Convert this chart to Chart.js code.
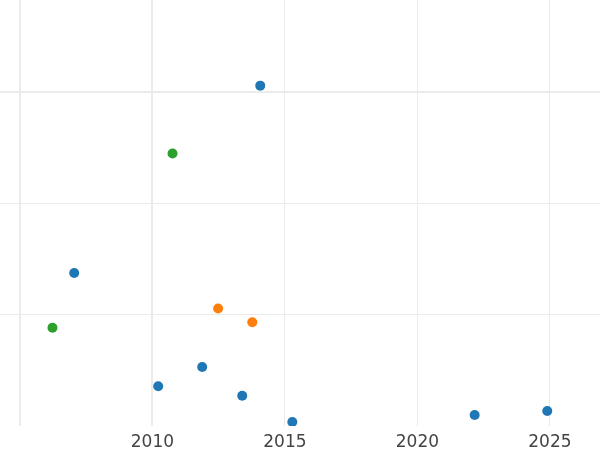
<!DOCTYPE html>
<html>
<head>
<meta charset="utf-8">
<script src="https://cdn.jsdelivr.net/npm/chart.js@4"></script>
<style>
  html, body { margin: 0; padding: 0; background: #fff; }
  #wrap { width: 600px; height: 450px; }
</style>
</head>
<body>
<div id="wrap"><canvas id="chart"></canvas></div>
<script>
// years and values (y has no labels, arbitrary units)
const blueYears = [2014.07, 2007.05, 2011.88, 2010.22, 2013.39, 2015.28, 2022.16, 2024.90];
const blueValues = [3.06, 1.375, 0.53, 0.357, 0.272, 0.036, 0.099, 0.135];
const orangeYears = [2012.48, 2013.77];
const orangeValues = [1.057, 0.932];
const greenYears = [2010.76, 2006.23];
const greenValues = [2.45, 0.883];

const xTicks = [2005, 2010, 2015, 2020, 2025];
const yTicks = [1, 2, 3];

const ToPoints = function (xs, ys) {
    return xs.map((x, i) => ({ x: x, y: ys[i] }));
}

const MakeSet = function (label, xs, ys, color) {
    return {
        label: label,
        data: ToPoints(xs, ys),
        backgroundColor: color,
        borderColor: color,
        pointRadius: 5,
        pointHoverRadius: 5,
        borderWidth: 0
    };
}

new Chart(document.getElementById('chart'), {
    type: 'scatter',
    data: {
        datasets: [
            MakeSet('blue', blueYears, blueValues, '#1f77b4'),
            MakeSet('orange', orangeYears, orangeValues, '#ff7f0e'),
            MakeSet('green', greenYears, greenValues, '#2ca02c')
        ]
    },
    options: {
        responsive: true,
        maintainAspectRatio: false,
        animation: false,
        layout: { padding: 0, autoPadding: false },
        plugins: {
            legend: { display: false },
            tooltip: { enabled: false }
        },
        scales: {
            x: {
                type: 'linear',
                min: 2004.25,
                max: 2026.89,
                afterBuildTicks: (axis) => { axis.ticks = xTicks.map(v => ({ value: v })); },
                afterFit: (axis) => { axis.height = 24; },
                border: { display: false },
                grid: {
                    color: '#ebebeb',
                    lineWidth: (ctx) => (ctx.tick && ctx.tick.value <= 2010 ? 2 : 1),
                    drawTicks: false
                },
                ticks: {
                    padding: 6,
                    color: '#444',
                    maxRotation: 0,
                    font: { family: 'DejaVu Sans', size: 17 },
                    callback: (v) => (v === 2005 ? '' : String(v))
                }
            },
            y: {
                type: 'linear',
                min: 0,
                max: 3.83,
                afterBuildTicks: (axis) => { axis.ticks = yTicks.map(v => ({ value: v })); },
                afterFit: (axis) => { axis.width = 0; },
                border: { display: false },
                grid: {
                    color: '#ebebeb',
                    lineWidth: (ctx) => (ctx.tick && ctx.tick.value === 3 ? 2 : 1),
                    drawTicks: false
                },
                ticks: { display: false }
            }
        }
    }
});
</script>
</body>
</html>
